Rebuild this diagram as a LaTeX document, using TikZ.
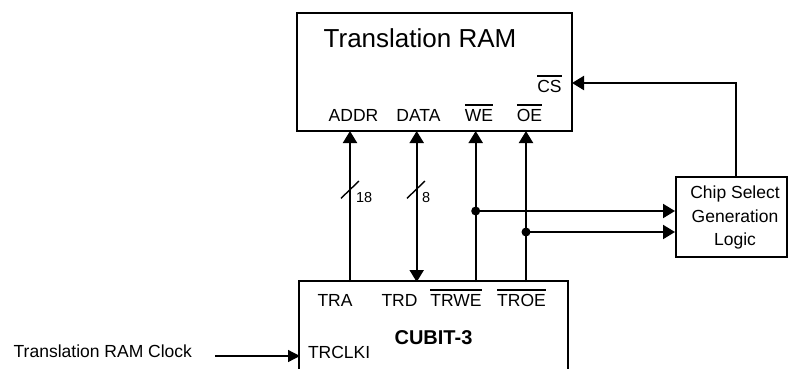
\documentclass[tikz,border=0pt]{standalone}
\usepackage{fontspec}
\setmainfont{Liberation Sans}
\usetikzlibrary{arrows.meta,calc}
\newcommand\ovl[1]{\leavevmode\vbox{\hrule height 1.4pt\kern 3.2pt\hbox{#1}}}
\begin{document}
\begin{tikzpicture}[x=1pt,y=-1pt,line width=2pt,
  lbl/.style={inner sep=0pt,anchor=base,font=\fontsize{17.5}{20}\selectfont},
  big/.style={inner sep=0pt,anchor=base,font=\fontsize{26}{30}\selectfont},
  small/.style={inner sep=0pt,anchor=base west,font=\fontsize{14.5}{16}\selectfont},
  tip/.style={-{Triangle[length=12pt,width=14pt]}},
  both/.style={{Triangle[length=12pt,width=14pt]}-{Triangle[length=12pt,width=14pt]}},
  dot/.style={circle,fill=black,inner sep=0pt,minimum size=9pt}]
\useasboundingbox (0,0) rectangle (788,368);
% boxes
\node[draw,inner sep=0pt,minimum width=275pt,minimum height=118pt] (ram) at (434.5,72) {};
\node[inner sep=0pt,minimum width=266.7pt,minimum height=86pt] (cubit) at (433.35,325) {};
\draw (cubit.south west) -- (cubit.north west) -- (cubit.north east) -- (cubit.south east);
\node[draw,inner sep=0pt,minimum width=111pt,minimum height=80pt] (csg) at (731.5,217) {};
% texts
\node[big] (tram) at (420,47) {Translation RAM};
\node[lbl] (addr) at (353.5,121) {ADDR};
\node[lbl] (data) at (418.5,121) {DATA};
\node[lbl] (we) at (479,121) {\ovl{WE}};
\node[lbl] (oe) at (529.5,121) {\ovl{OE}};
\node[lbl] (cs) at (549.5,92) {\ovl{CS}};
\node[lbl] (tra) at (335,306) {TRA};
\node[lbl] (trd) at (399.5,306) {TRD};
\node[lbl] (trwe) at (456,306) {\ovl{TRWE}};
\node[lbl] (troe) at (521.5,306) {\ovl{TROE}};
\node[inner sep=0pt,anchor=base,font=\fontsize{20}{24}\selectfont\bfseries] (cub) at (433.5,344) {CUBIT-3};
\node[lbl,anchor=base west] (trclki) at (307,358) {TRCLKI};
\node[lbl,anchor=base west] (clk) at (12.7,357.7) {Translation RAM Clock};
\node[lbl] (cs1) at (735,198) {Chip Select};
\node[lbl] (cs2) at (735,222) {Generation};
\node[lbl] (cs3) at (735,245) {Logic};
\node[small] (n18) at (355,202) {18};
\node[small] (n8) at (421,202) {8};
% pins
\coordinate (rA) at (350,131);   \coordinate (cA) at (350,282);
\coordinate (rD) at (416.7,131); \coordinate (cD) at (416.7,282);
\coordinate (rW) at (475.7,131); \coordinate (cW) at (475.7,282);
\coordinate (rO) at (526,131);   \coordinate (cO) at (526,282);
\coordinate (jW) at (475.7,211); \coordinate (jO) at (526,232);
\coordinate (csOut) at (736,177); \coordinate (csIn) at (572,83);
\coordinate (clkS) at (215,356); \coordinate (clkE) at (300,356);
% connectors
\draw[tip] (cA) -- (rA);
\draw[both] (rD) -- (cD);
\draw[tip] (cW) -- (rW);
\draw[tip] (cO) -- (rO);
\node[dot] (dW) at (jW) {};
\node[dot] (dO) at (jO) {};
\draw[tip] (jW) -- (jW -| csg.west);
\draw[tip] (jO) -- (jO -| csg.west);
\draw[tip] (csOut) |- (csIn);
\draw[line width=1.3pt,-{Triangle[length=12pt,width=12pt]}] (clkS) -- (clkE);
% bus slashes
\draw[line width=1.4pt] (341,198.3) -- (359,181);
\draw[line width=1.4pt] (407,198.3) -- (425,181);
\end{tikzpicture}
\end{document}
